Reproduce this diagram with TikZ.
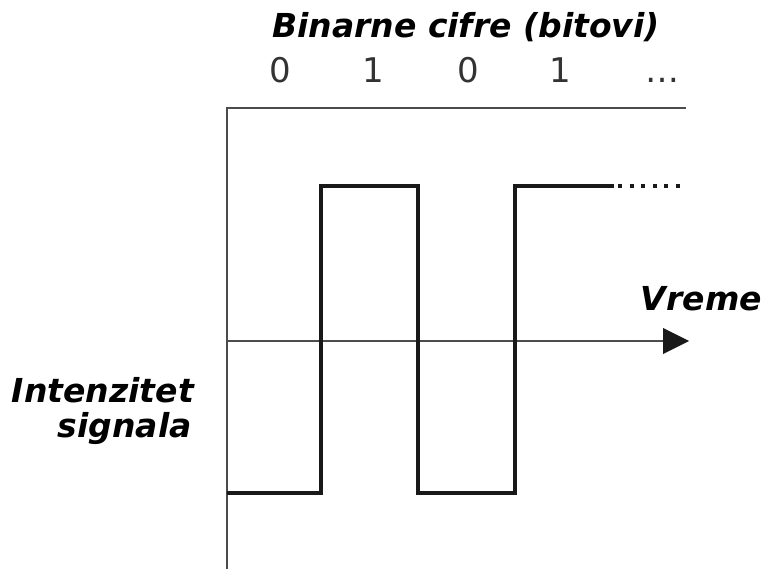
\documentclass[tikz,border=0pt]{standalone}
\usepackage{fontspec}
\setmainfont{DejaVu Sans}
\begin{document}
\begin{tikzpicture}[x=1pt,y=-1pt,
  lbl/.style={font=\fontsize{33}{40}\selectfont\bfseries\itshape, text=black, inner sep=0pt},
  digit/.style={font=\fontsize{34}{40}\selectfont, text=black!80, inner sep=0pt, anchor=base},
  axis/.style={draw=black!70, line width=1.3pt},
  sig/.style={draw=black!90, line width=3.8pt, line join=miter}]
\useasboundingbox (0,0) rectangle (765,569);
% labels
\node[lbl, anchor=base] (title) at (466,38) {Binarne cifre (bitovi)};
\node[digit] (d0) at (280,83) {0};
\node[digit] (d1) at (373,83) {1};
\node[digit] (d2) at (468,83) {0};
\node[digit] (d3) at (560,83) {1};
\node[digit] (d4) at (662,83) {\dots};
\node[lbl, anchor=base east] (vreme) at (762,310) {Vreme};
\node[lbl, anchor=base east] (int) at (194,402) {Intenzitet};
\node[lbl, anchor=base east] (sgn) at (192,437) {signala};
% axes
\coordinate (o) at (227,341);
\coordinate (ybot) at (227,569);
\coordinate (ytop) at (227,108);
\coordinate (tr) at (686,108);
\coordinate (xend) at (664,341);
\draw[axis] (ybot) -- (ytop) -- (tr);
\draw[axis] (o) -- (xend);
\fill[black!90] (663,328) -- (689,341) -- (663,354) -- cycle;
% signal
\coordinate (s0) at (227,493);
\coordinate (s1) at (321,493);
\coordinate (s2) at (321,186);
\coordinate (s3) at (418,186);
\coordinate (s4) at (418,493);
\coordinate (s5) at (515,493);
\coordinate (s6) at (515,186);
\coordinate (s7) at (614,186);
\coordinate (s8) at (684,186);
\draw[sig] (s0) -- (s1) -- (s2) -- (s3) -- (s4) -- (s5) -- (s6) -- (s7);
\draw[black!90, line width=4pt, dash pattern=on 4pt off 7.6pt] (618,186) -- (s8);
\end{tikzpicture}
\end{document}
